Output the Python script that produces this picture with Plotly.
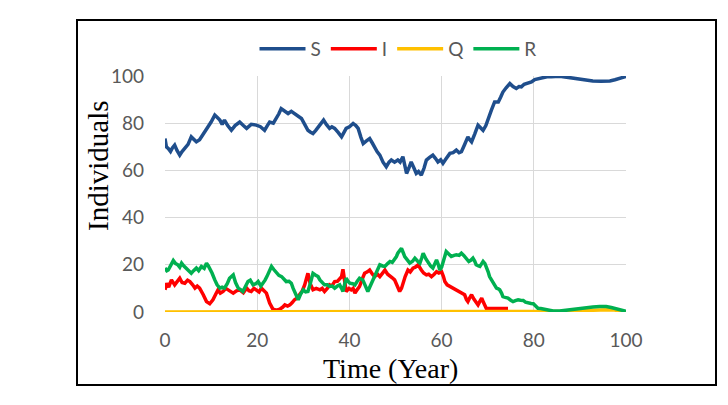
import plotly.graph_objects as go

# ---------------- data ----------------
t_S = [0, 0.3, 0.7, 1.2, 1.6, 2.1, 2.6, 3.2, 3.7, 4.3, 5.0, 5.7, 6.2, 6.8, 7.5, 8.2, 8.8, 9.3, 10.0, 10.8,
       11.3, 11.9, 12.4, 12.9, 13.6, 14.4, 15.2, 16.2, 17.0, 17.7, 18.7, 19.8, 20.7, 21.6, 22.2, 22.7, 23.5,
       24.2, 24.7, 25.2, 26.0, 26.7, 27.4, 28.1, 28.9, 29.6, 30.3, 31.0, 31.5, 32.1, 32.7, 33.2, 33.8, 34.4,
       35.0, 35.7, 36.2, 36.8, 37.6, 38.3, 38.8, 39.3, 40.0, 40.8, 41.4, 41.9, 42.5, 43.0, 43.7, 44.4, 45.0,
       45.5, 46.0, 46.6, 47.3, 48.0, 48.6, 49.1, 49.8, 50.5, 51.0, 51.6, 52.0, 52.4, 52.9, 53.4, 54.0, 54.5,
       55.0, 55.6, 56.2, 56.7, 57.4, 58.1, 58.7, 59.2, 59.8, 60.3, 61.0, 61.8, 62.5, 63.2, 63.8, 64.3, 65.0,
       65.7, 66.1, 66.5, 67.2, 67.9, 68.5, 69.0, 69.6, 70.1, 70.8, 71.5, 72.3, 72.8, 73.3, 74.0, 74.8, 75.5,
       76.2, 76.8, 77.3, 77.9, 78.4, 79.0, 79.5, 80.2, 80.9, 81.6, 82.4, 83.1, 83.8, 85.6, 87.5, 89.2, 91.0,
       92.8, 94.6, 96.5, 97.6, 98.6, 99.3, 100]
S = [73.5, 70, 69.3, 68, 69.5, 70.7, 68.5, 66.5, 68, 69.3, 71, 74.2, 73, 72.1, 73, 74.9, 76.5, 78.4, 80.5, 83.4,
     82.5, 81.3, 79.5, 81.3, 79, 77, 79, 80.5, 79, 77.8, 79.5, 79.2, 78.5, 77, 79, 80.5, 80,
     82, 84, 86.2, 85, 84.1, 85, 84.1, 83, 82, 79.5, 77, 76.3, 75.6, 77, 78.4, 80, 81.3,
     79.5, 77.8, 78.5, 77.8, 76, 74.2, 76, 77.8, 78.5, 79.9, 79, 77.8, 74, 71.4, 72.5, 73.5, 71.5,
     69.3, 68, 66.5, 63.5, 61.5, 63.5, 64.4, 63.5, 64.4, 63.5, 65.8, 62, 58.7, 61, 63.6, 61, 58.7,
     59.5, 58, 61, 64.4, 65.5, 66.5, 65, 63.6, 64.5, 63, 65, 67.2, 67.5, 68.6, 67.5, 67.9, 71,
     74.2, 73, 72.1, 75.5, 79.2, 78, 77, 79, 82, 85.5, 89, 89, 91, 93.2, 95, 96.8, 95.5,
     94.7, 95.5, 95.4, 96.5, 96.8, 97, 97.5, 98.5, 98.9, 99.3, 99.6, 99.8, 99.7, 99.9, 99.4, 98.9, 98.4,
     97.9, 97.8, 97.9, 98.4, 98.9, 99.4, 99.8]

t_I = [0, 0.4, 0.8, 1.4, 2.1, 2.6, 3.2, 3.7, 4.3, 4.9, 5.4, 6.0, 6.5, 7.0, 7.5, 8.3, 9.0, 9.7, 10.4, 11.0,
       11.5, 12.0, 12.6, 13.2, 13.7, 14.3, 14.8, 15.5, 16.2, 17.0, 17.7, 18.2, 18.7, 19.3, 19.8, 20.4, 20.9,
       21.5, 22.0, 22.7, 23.4, 24.2, 24.9, 25.5, 26.0, 26.6, 27.1, 27.6, 28.1, 28.7, 29.2, 29.8, 30.3, 30.7,
       31.0, 31.5, 32.1, 32.8, 33.6, 34.1, 34.6, 35.2, 35.7, 36.2, 36.8, 37.4, 37.9, 38.3, 38.6, 39.0, 39.3,
       39.9, 40.4, 40.8, 41.2, 41.7, 42.2, 42.8, 43.3, 43.9, 44.4, 45.0, 45.5, 46.1, 46.6, 47.2, 47.7, 48.3,
       48.8, 49.3, 49.8, 50.4, 50.9, 51.3, 51.6, 52.1, 52.7, 53.2, 53.8, 54.3, 54.9, 55.3, 55.6, 56.1, 56.7,
       57.2, 57.8, 58.4, 58.9, 59.4, 60.0, 60.4, 60.7, 61.2, 61.8, 62.5, 63.2, 63.7, 64.3, 65.0, 65.4, 65.7,
       66.1, 66.5, 67.0, 67.5, 67.9, 68.3, 68.7, 69.1, 69.4, 69.7, 70.5, 71.5, 72.5, 73.5, 74.4]
I = [9.4, 12.2, 10.5, 13.6, 11.5, 13, 14.3, 12.5, 12.2, 13.5, 12.9, 11.5, 10.1, 11, 10.1, 7.3, 4.4, 3.5, 5.2, 7.5,
     9.4, 8, 8.7, 10, 9.4, 8.5, 8, 9, 9.4, 8.2, 10.1, 9, 8.7, 10, 9.4, 8.5, 10.1,
     9, 8, 3.8, 1.2, 0.8, 1.2, 2, 3, 2.5, 3, 4, 5.2, 6, 7.3, 9, 11.5, 14,
     16.4, 12, 9.4, 10, 9.4, 10, 8.7, 10, 11.5, 11, 12.9, 13, 14.3, 15, 18.1, 12, 8.7,
     10, 9.4, 10, 8, 9.5, 10.8, 14, 16.4, 17, 17.8, 16, 15, 16, 15, 16.5, 17.8, 16,
     15, 14.5, 13.6, 11, 8.7, 10, 12.2, 15, 17.8, 17, 18.6, 19, 20, 18.5, 17.8, 16.5, 15.7,
     16, 15, 16, 17.1, 16.5, 17.1, 15, 12.9, 11.5, 10.8, 10, 9.4, 9, 8, 7.3, 5.2, 4.4,
     6, 7.3, 5.5, 4.4, 3, 4.5, 5.9, 4, 2.3, 1.5, 1.5, 1.5, 1.5, 1.5, 1.5]

t_Q = [0, 84, 86, 88, 90, 92, 94, 96, 97.5, 99, 100]
Q = [0, 0, 0.1, 0.3, 0.5, 0.7, 0.9, 1.0, 0.8, 0.3, 0]

t_R = [0, 0.4, 0.7, 1.2, 1.8, 2.3, 2.8, 3.2, 3.6, 4.1, 4.6, 5.1, 5.7, 6.2, 6.8, 7.3, 7.9, 8.5, 9.0, 9.4,
       9.7, 10.2, 10.8, 11.3, 11.9, 12.4, 12.9, 13.5, 14.0, 14.8, 15.3, 15.9, 16.4, 16.9, 17.5, 18.0, 18.5,
       19.1, 19.7, 20.2, 20.8, 21.3, 21.7, 22.1, 22.6, 23.1, 23.6, 24.2, 24.7, 25.3, 25.8, 26.3, 26.9, 27.4,
       27.8, 28.1, 28.5, 28.9, 29.4, 30.0, 30.5, 31.0, 31.5, 32.1, 32.6, 33.2, 33.6, 34.1, 34.6, 35.2, 35.7,
       36.3, 36.8, 37.4, 37.9, 38.3, 38.6, 39.0, 39.3, 39.7, 40.1, 40.7, 41.2, 41.7, 42.2, 42.9, 43.5, 44.0,
       44.4, 44.8, 45.4, 45.9, 46.3, 46.6, 47.2, 47.7, 48.3, 48.8, 49.3, 49.8, 50.2, 50.5, 50.9, 51.3, 51.7,
       52.0, 52.6, 53.1, 53.7, 54.2, 54.8, 55.3, 55.7, 56.0, 56.6, 57.1, 57.6, 58.1, 58.5, 58.9, 59.3, 59.6,
       60.0, 60.3, 60.7, 61.0, 61.6, 62.1, 62.7, 63.2, 63.8, 64.3, 64.8, 65.4, 65.9, 66.4, 66.8, 67.2, 67.5,
       68.0, 68.3, 68.7, 69.0, 69.4, 69.7, 70.1, 70.4, 70.8, 71.2, 71.6, 71.9, 72.3, 72.6, 73.0, 73.3, 73.8,
       74.4, 75.0, 75.5, 76.0, 76.6, 77.1, 77.7, 78.2, 78.8, 79.4, 79.9, 80.4, 80.9, 81.5, 82.1, 82.6, 83.1,
       83.7, 84.2, 85.6, 87.4, 89.2, 91.0, 92.8, 94.3, 95.7, 96.8, 97.9, 99.0, 100]
R = [18.6, 17.5, 17.8, 20, 21.8, 20.5, 20, 19, 20.7, 19.5, 18.6, 17.5, 16.4, 17.5, 18.6, 17.5, 19.3, 18.5, 20.7, 19.5,
     18.6, 16.5, 13.6, 11.5, 10.1, 10.5, 10.1, 12, 14.3, 15.7, 12.5, 10.1, 9.5, 8.7, 11, 12.9, 13.5,
     11.5, 12, 12.9, 11, 12.2, 13.5, 15, 17.5, 19.3, 18, 16.4, 15.5, 15, 14, 12.9, 13, 12.2,
     10, 8.7, 7, 5.2, 7.5, 9.4, 8.5, 8.7, 12, 16.4, 15.7, 15, 13.6, 12.5, 11.5, 11.5, 10.8,
     11, 10.1, 11, 11.5, 10, 8.7, 12, 14.3, 13, 12.2, 12, 11.5, 13, 14.3, 13.6, 11, 8.7,
     10.5, 12.2, 14.5, 16.4, 18.5, 20, 19.5, 19.3, 20.5, 21.4, 21, 22.1, 23.5, 24.9, 26, 27, 25,
     23.5, 22, 20.7, 21.5, 22.8, 21.5, 20.7, 23, 24.9, 22.5, 20.7, 19.5, 18.6, 20, 22.1, 20, 17.8,
     19, 21.4, 24, 25.6, 24.5, 23.5, 24, 24.2, 24, 24.9, 24, 22.8, 21.4, 22, 22.8, 21.5, 20,
     19.5, 19.3, 20.5, 21.4, 20.5, 19.3, 17, 15, 13.5, 12.2, 11, 10.1, 9.8, 9.4, 8, 6.5, 6.2,
     5.9, 5, 4.4, 4.8, 5.2, 5, 4.9, 4.2, 3.8, 3.6, 3.5, 2.5, 1.6, 1.5, 1.2, 1, 0.8,
     0.6, 0.4, 0.4, 0.9, 1.4, 1.8, 2.1, 2.3, 2.3, 1.9, 1.4, 0.8, 0.3]

names = ["S", "I", "Q", "R"]
colors = ["#1F4E8C", "#FF0000", "#FFC000", "#00B050"]
x_ticks = [0, 20, 40, 60, 80, 100]
y_ticks = [0, 20, 40, 60, 80, 100]

# ---------------- figure ----------------
W, H = 728, 405
ML, MR, MT, MB = 165, 102, 76, 93
PW, PH = W - ML - MR, H - MT - MB


def px_to_paper_x(px):
    return (px - ML) / PW


def px_to_paper_y(py):
    return (H - MB - py) / PH


fig = go.Figure()
series = [(t_S, S), (t_I, I), (t_Q, Q), (t_R, R)]
for (tx, ty), nm, col in zip(series, names, colors):
    fig.add_trace(go.Scatter(
        x=tx, y=ty, name=nm, mode="lines",
        line=dict(color=col, width=3.5),
        cliponaxis=False,
    ))

tick_font = dict(family="Lato, Liberation Sans, sans-serif", size=19, color="#595959")
axis_common = dict(
    showgrid=True, gridcolor="#D9D9D9", gridwidth=1.3,
    zeroline=False, showline=False, ticks="",
    tickfont=tick_font, range=[0, 100], tickvals=x_ticks,
)

fig.update_layout(
    width=W, height=H,
    margin=dict(l=ML, r=MR, t=MT, b=MB),
    paper_bgcolor="white", plot_bgcolor="white",
    showlegend=True,
    legend=dict(
        orientation="h", x=px_to_paper_x(398), xanchor="center",
        y=px_to_paper_y(49), yanchor="middle",
        font=dict(family="Lato, Liberation Sans, sans-serif", size=19, color="#595959"),
        itemwidth=46, traceorder="normal", bgcolor="rgba(0,0,0,0)",
    ),
    xaxis=dict(**axis_common, ticklabelstandoff=15),
    yaxis=dict(**{**axis_common, "tickvals": y_ticks}, ticklabelstandoff=20),
    shapes=[dict(
        type="rect", xref="paper", yref="paper",
        x0=px_to_paper_x(77), x1=px_to_paper_x(716),
        y0=px_to_paper_y(385), y1=px_to_paper_y(20),
        line=dict(color="black", width=2), fillcolor="rgba(0,0,0,0)", layer="above",
    )],
    annotations=[
        dict(text="Individuals", xref="paper", yref="paper",
             x=px_to_paper_x(98), y=px_to_paper_y(166), textangle=-90,
             showarrow=False, xanchor="center", yanchor="middle",
             font=dict(family="Liberation Serif, Times New Roman, serif", size=29, color="black")),
        dict(text="Time (Year)", xref="paper", yref="paper",
             x=px_to_paper_x(390), y=px_to_paper_y(368),
             showarrow=False, xanchor="center", yanchor="middle",
             font=dict(family="Liberation Serif, Times New Roman, serif", size=28, color="black")),
    ],
)

fig.write_html("out.html")
